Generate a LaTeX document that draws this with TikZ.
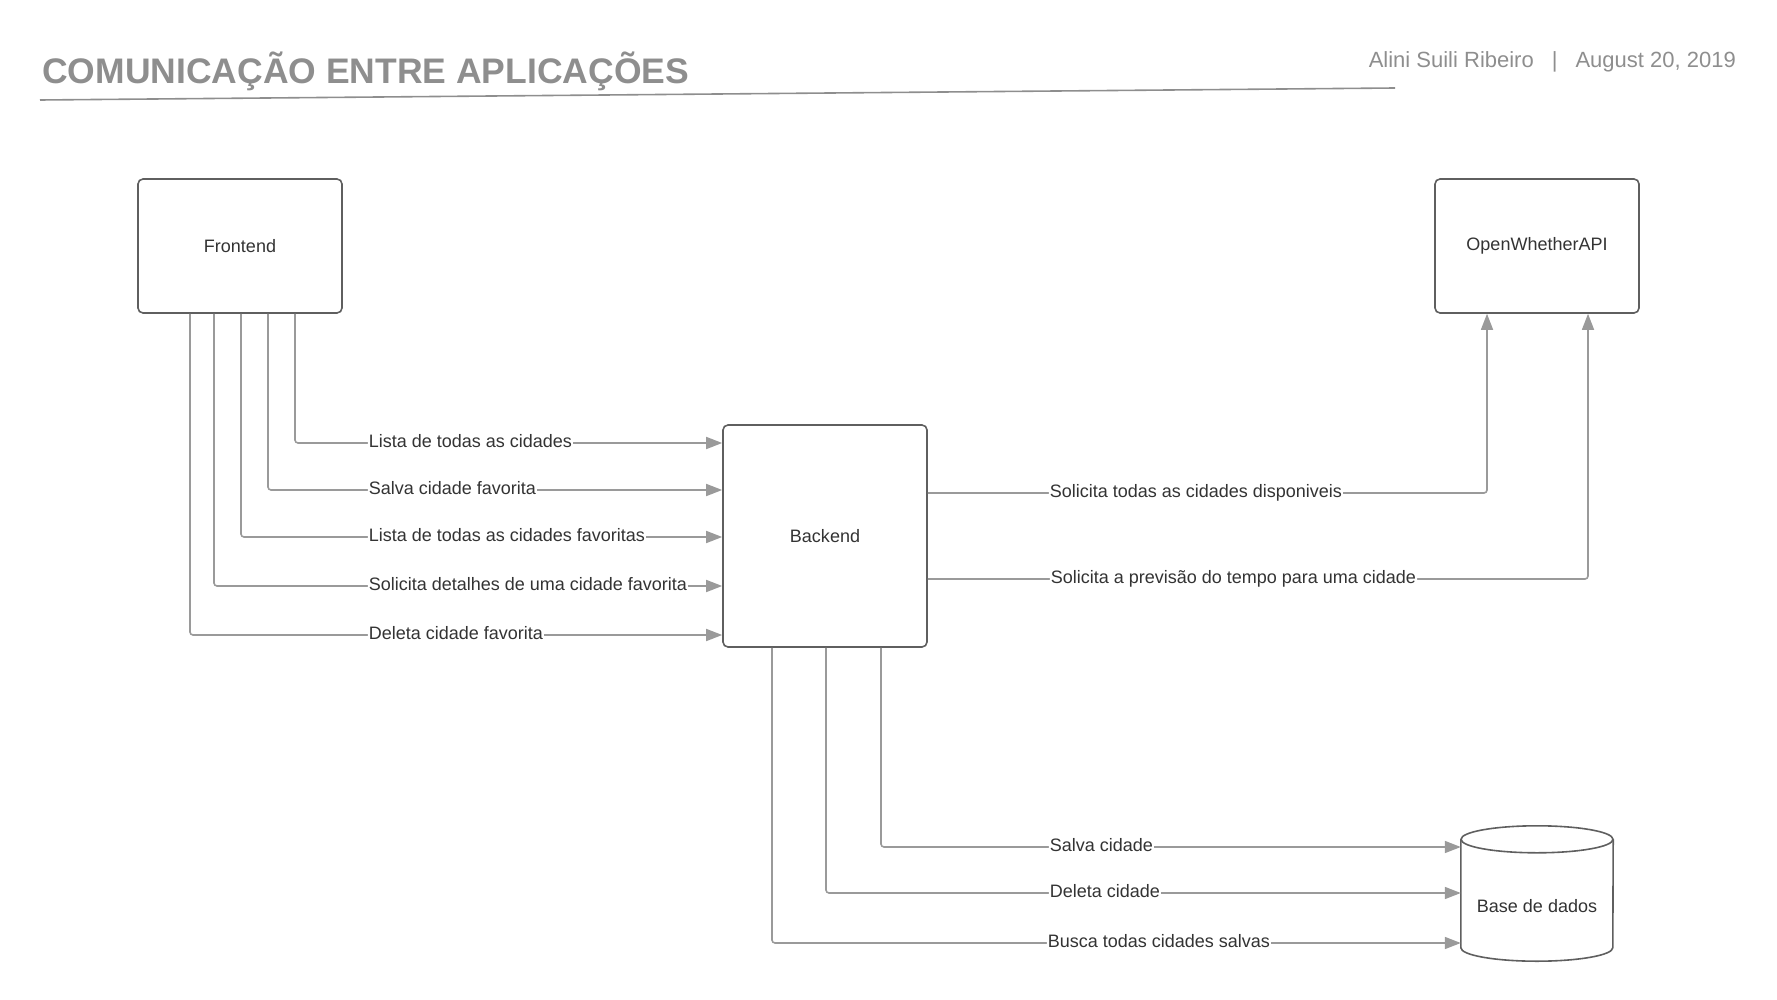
\documentclass[tikz,border=0pt]{standalone}
\usepackage{fontspec}
\setmainfont{Liberation Sans}
\usetikzlibrary{positioning, arrows.meta}

\definecolor{boxgray}{HTML}{5F5F5F}
\definecolor{linegray}{HTML}{9A9A9A}
\definecolor{titlegray}{HTML}{8E8E8E}
\definecolor{textdark}{HTML}{333333}

\tikzset{
    app/.style = {shape = rectangle, draw = boxgray, line width = 1.6pt, rounded corners = 5pt,
        minimum width = 204pt, minimum height = 134pt, text = textdark,
        font = \fontsize{18pt}{20pt}\selectfont},
    dbline/.style = {draw = boxgray, line width = 1.6pt},
    call/.style = {-{Triangle[length = 16pt, width = 12pt]}, draw = linegray, line width = 1.6pt,
        rounded corners = 3pt},
    msg/.style = {anchor = base west, yshift = -4.5pt, fill = white, inner sep = 1pt,
        text = textdark, font = \fontsize{18pt}{20pt}\selectfont}
}

\begin{document}
\begin{tikzpicture}[x = 1pt, y = -1pt]
    \useasboundingbox (0, 0) rectangle (1777, 1000);

    % header
    \node [anchor = base west, inner sep = 0pt, text = titlegray,
        font = \fontsize{35.5pt}{40pt}\selectfont\bfseries] (title) at (42, 84) {COMUNICAÇÃO ENTRE APLICAÇÕES};
    \node [anchor = base east, inner sep = 0pt, text = titlegray,
        font = \fontsize{22pt}{24pt}\selectfont] (author) at (1736, 68) {Alini Suili Ribeiro\hspace{18pt}|\hspace{18pt}August 20, 2019};
    \coordinate (ruleL) at (40, 100);
    \coordinate (ruleR) at (1395, 88);
    \draw [titlegray, line width = 1.6pt] (ruleL) -- (ruleR);

    % applications
    \node [app] (front) at (240, 246) {Frontend};
    \node [app] (api) at (1537, 246) {OpenWhetherAPI};
    \node [app, minimum height = 222pt] (back) at (825, 536) {Backend};
    \node [minimum width = 152pt, minimum height = 108pt, text = textdark,
        font = \fontsize{18pt}{20pt}\selectfont] (db) at (1537, 907) {\raisebox{3pt}{Base de dados}};
    \draw [dbline] ([yshift = 13.5pt]db.north) ellipse [x radius = 76pt, y radius = 13.5pt];
    \draw [dbline] ([yshift = 13.5pt]db.north west) -- ([yshift = 13.5pt]db.south west)
        arc [start angle = 180, end angle = 360, x radius = 76pt, y radius = 13.5pt]
        -- ([yshift = 13.5pt]db.north east);

    % frontend -> backend
    \draw [call] ([xshift = 55pt]front.south) |- ([yshift = 93pt]back.west) node [msg] at (367, 443) {Lista de todas as cidades};
    \draw [call] ([xshift = 28pt]front.south) |- ([yshift = 46pt]back.west) node [msg] at (367, 490) {Salva cidade favorita};
    \draw [call] ([xshift = 1pt]front.south) |- ([yshift = -1pt]back.west) node [msg] at (367, 537) {Lista de todas as cidades favoritas};
    \draw [call] ([xshift = -26pt]front.south) |- ([yshift = -50pt]back.west) node [msg] at (367, 586) {Solicita detalhes de uma cidade favorita};
    \draw [call] ([xshift = -50pt]front.south) |- ([yshift = -99pt]back.west) node [msg] at (367, 635) {Deleta cidade favorita};

    % backend -> api
    \draw [call] ([yshift = 43pt]back.east) -| ([xshift = -50pt]api.south) node [msg] at (1048, 493) {Solicita todas as cidades disponiveis};
    \draw [call] ([yshift = -43pt]back.east) -| ([xshift = 51pt]api.south) node [msg] at (1049, 579) {Solicita a previsão do tempo para uma cidade};

    % backend -> base de dados
    \draw [call] ([xshift = 56pt]back.south) |- ([yshift = 60pt]db.west) node [msg] at (1048, 847) {Salva cidade};
    \draw [call] ([xshift = 1pt]back.south) |- ([yshift = 14pt]db.west) node [msg] at (1048, 893) {Deleta cidade};
    \draw [call] ([xshift = -53pt]back.south) |- ([yshift = -36pt]db.west) node [msg] at (1046, 943) {Busca todas cidades salvas};
\end{tikzpicture}
\end{document}
